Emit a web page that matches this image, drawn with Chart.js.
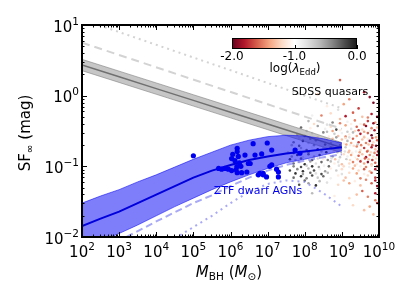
<!DOCTYPE html>
<html><head><meta charset="utf-8">
<script src="https://cdn.jsdelivr.net/npm/chart.js@4.4.1/dist/chart.umd.min.js"></script>
<style>html,body{margin:0;padding:0;background:#fff;}canvas{display:block;}</style>
</head><body>
<canvas id="c" width="415" height="302" style="width:415px;height:302px"></canvas>
<script>
// ---- tick labels ----
const xTickExps = [2,3,4,5,6,7,8,9,10];
const yTickExps = [-2,-1,0,1];
const cbarTickLabels = ['-2.0','-1.0','0.0'];
const cbarTickValues = [-2,-1,0];

// ---- model curves (log10 M_BH, log10 SF_inf) ----
const modelLogM   = [2,2.5,3,3.5,4,4.5,5,5.5,6,6.5,7,7.5,8,8.5,9];
const ztfModelMid = [-1.845,-1.74,-1.64,-1.52,-1.40,-1.28,-1.16,-1.06,-0.98,-0.91,-0.86,-0.82,-0.79,-0.76,-0.73];
const ztfModelHi  = [-1.52,-1.42,-1.33,-1.22,-1.12,-1.01,-0.90,-0.80,-0.70,-0.63,-0.58,-0.56,-0.57,-0.61,-0.67];
const ztfModelLo  = [-2.17,-2.06,-1.95,-1.83,-1.70,-1.57,-1.45,-1.33,-1.22,-1.12,-1.03,-0.95,-0.90,-0.84,-0.78];

const ztfDashLogM = [3.2,4,5,5.5,6,6.5,7,7.5,8,8.5,9];
const ztfDashSF   = [-2.0,-1.78,-1.52,-1.41,-1.28,-1.16,-1.06,-0.98,-0.92,-0.87,-0.83];
const ztfDotLogM  = [4.5,5,5.5,6,6.5,7,7.5,8,8.5,9];
const ztfDotSF    = [-2.02,-1.86,-1.70,-1.52,-1.36,-1.25,-1.20,-1.22,-1.38,-1.57];

const qsoLogM  = [2,3,4,5,6,7,8,9];
const qsoMid   = [0.434,0.267,0.100,-0.067,-0.234,-0.401,-0.568,-0.735];
const qsoHi    = [0.514,0.347,0.180,0.013,-0.154,-0.321,-0.488,-0.665];
const qsoLo    = [0.354,0.187,0.020,-0.147,-0.314,-0.481,-0.648,-0.805];
const qsoDashLogM = [2,9];
const qsoDashSF   = [0.75,-0.47];
const qsoDotLogM  = [2,9];
const qsoDotSF    = [1.08,-0.18];

// ---- ZTF dwarf AGNs (log10 M_BH, log10 SF_inf) ----
const ztfLogM  = [5.00,5.76,5.85,5.68,5.94,6.03,6.15,6.18,6.30,6.44,6.06,6.18,6.18,6.21,6.12,6.24,6.28,6.48,6.61,6.84,6.99,6.75,6.88,6.97,6.17,6.03,6.53,6.66,7.11,7.11,7.06,7.24,7.29,6.79,7.29,7.74,7.87,6.88,6.39];
const ztfLogSF = [-0.85,-1.04,-1.03,-1.03,-1.04,-1.06,-1.05,-1.09,-1.09,-1.08,-0.83,-0.745,-0.79,-0.86,-0.92,-0.95,-1.00,-0.96,-0.68,-0.825,-0.67,-1.12,-1.10,-1.15,-1.005,-0.89,-0.96,-0.84,-0.77,-0.98,-1.00,-1.04,-1.08,-1.10,-1.15,-0.77,-0.815,-1.12,-0.84];

// ---- SDSS quasars: [log10 M_BH, log10 SF_inf, log lambda_Edd] ----
const sdssQuasars = [
[8.95,0.22,-1.6],[9.6,0.05,-1.8],
[8.35,0.02,-1.3],[9.2,-0.05,-1.5],[9.75,-0.02,-1.9],
[8.6,-0.15,-1.1],[9.05,-0.12,-1.4],[9.45,-0.18,-1.7],[9.85,-0.1,-1.95],[8.9,-0.2,-0.8],
[8.2,-0.28,-0.9],[8.7,-0.25,-1.2],[9.0,-0.3,-1.0],[9.3,-0.24,-1.6],[9.55,-0.3,-1.3],[9.8,-0.26,-1.8],[9.95,-0.3,-2.0],
[8.45,-0.28,-1.5],[9.1,-0.29,-1.8],[9.7,-0.31,-1.5],
[8.1,-0.36,-0.6],[8.45,-0.34,-1.0],[8.75,-0.38,-0.4],[8.95,-0.33,-1.3],[9.15,-0.37,-0.9],[9.35,-0.35,-1.5],[9.5,-0.4,-1.1],[9.7,-0.36,-1.7],[9.9,-0.38,-1.4],
[8.25,-0.4,-1.2],[8.6,-0.41,-0.8],[8.95,-0.39,-1.5],[9.25,-0.4,-1.1],[9.6,-0.41,-1.6],[9.85,-0.39,-1.9],
[7.9,-0.45,-0.3],[8.15,-0.46,-1.1],[8.35,-0.43,-0.5],[8.55,-0.47,-0.9],[8.7,-0.44,-1.2],[8.85,-0.48,-0.2],[9.0,-0.45,-1.0],[9.1,-0.42,-1.4],[9.25,-0.47,-0.8],[9.4,-0.44,-1.6],[9.55,-0.48,-1.2],[9.65,-0.43,-1.9],[9.8,-0.46,-1.5],[9.95,-0.45,-1.3],
[8.05,-0.5,-0.7],[8.3,-0.49,-1.0],[8.6,-0.51,-0.6],[8.75,-0.5,-1.4],[8.95,-0.49,-1.1],[9.15,-0.51,-0.7],[9.35,-0.5,-1.2],[9.45,-0.49,-1.7],[9.6,-0.51,-1.4],[9.75,-0.5,-1.1],[9.88,-0.49,-1.8],
[7.8,-0.55,-0.5],[8.0,-0.57,-0.2],[8.2,-0.53,-0.8],[8.4,-0.56,-1.0],[8.5,-0.52,-0.4],[8.65,-0.58,-1.1],[8.8,-0.54,-0.7],[8.9,-0.57,-1.3],[9.0,-0.53,-0.9],[9.1,-0.58,-1.5],[9.2,-0.55,-1.1],[9.3,-0.52,-0.6],[9.4,-0.57,-1.4],[9.5,-0.54,-1.8],[9.6,-0.58,-1.2],[9.7,-0.53,-1.6],[9.8,-0.56,-2.0],[9.9,-0.54,-1.1],[10.0,-0.57,-1.5],
[7.85,-0.6,-0.8],[8.15,-0.61,-0.4],[8.35,-0.59,-1.2],[8.55,-0.6,-0.9],[8.75,-0.61,-1.3],[8.85,-0.59,-0.5],[8.95,-0.61,-1.0],[9.1,-0.6,-1.2],[9.2,-0.59,-0.8],[9.3,-0.61,-1.6],[9.45,-0.6,-1.0],[9.6,-0.59,-1.3],[9.7,-0.61,-1.1],[9.82,-0.6,-1.7],[9.92,-0.59,-1.4],
[7.7,-0.66,-0.4],[7.95,-0.64,-0.1],[8.1,-0.67,-0.7],[8.3,-0.63,-0.3],[8.45,-0.66,-0.9],[8.6,-0.62,-1.2],[8.7,-0.67,-0.5],[8.8,-0.64,-1.0],[8.9,-0.66,-0.8],[9.0,-0.62,-1.3],[9.05,-0.68,-1.1],[9.15,-0.64,-0.6],[9.25,-0.67,-1.4],[9.35,-0.63,-1.0],[9.45,-0.66,-1.7],[9.55,-0.62,-1.3],[9.65,-0.67,-1.5],[9.75,-0.64,-1.9],[9.85,-0.66,-1.2],[9.95,-0.63,-1.6],
[7.65,-0.7,-0.6],[7.85,-0.71,-0.3],[8.0,-0.69,-1.0],[8.25,-0.7,-0.5],[8.4,-0.71,-1.1],[8.55,-0.69,-0.2],[8.65,-0.7,-0.8],[8.75,-0.71,-1.3],[8.85,-0.69,-0.9],[8.95,-0.7,-0.4],[9.05,-0.71,-1.0],[9.12,-0.69,-1.4],[9.22,-0.7,-0.9],[9.32,-0.71,-1.2],[9.42,-0.69,-0.7],[9.52,-0.7,-1.5],[9.62,-0.71,-1.0],[9.72,-0.69,-1.3],[9.82,-0.7,-1.6],[9.92,-0.71,-1.9],
[7.75,-0.76,-0.2],[7.9,-0.74,-0.6],[8.05,-0.77,-0.3],[8.2,-0.73,-0.9],[8.35,-0.76,-0.1],[8.5,-0.74,-0.7],[8.6,-0.78,-1.0],[8.7,-0.73,-0.4],[8.8,-0.77,-1.2],[8.9,-0.74,-0.9],[9.0,-0.76,-1.1],[9.1,-0.73,-0.7],[9.2,-0.78,-1.3],[9.3,-0.75,-1.0],[9.4,-0.72,-1.5],[9.5,-0.77,-1.2],[9.6,-0.74,-1.7],[9.7,-0.78,-1.4],[9.8,-0.73,-1.8],[9.9,-0.76,-1.3],[10.0,-0.74,-1.6],
[7.55,-0.8,-0.7],[7.7,-0.81,-0.2],[7.9,-0.79,-0.9],[8.1,-0.8,-0.4],[8.3,-0.81,-1.0],[8.45,-0.79,-0.6],[8.58,-0.8,-0.1],[8.68,-0.81,-0.9],[8.78,-0.79,-1.2],[8.88,-0.8,-0.6],[8.98,-0.81,-1.0],[9.08,-0.79,-0.8],[9.18,-0.8,-1.3],[9.28,-0.81,-1.1],[9.38,-0.79,-0.9],[9.48,-0.8,-1.4],[9.58,-0.81,-1.0],[9.68,-0.79,-1.6],[9.78,-0.8,-1.2],[9.88,-0.81,-1.5],[9.97,-0.79,-1.8],
[7.65,-0.86,-0.5],[7.8,-0.84,-0.1],[7.95,-0.87,-0.8],[8.1,-0.83,-0.3],[8.25,-0.86,-0.6],[8.4,-0.84,-0.2],[8.55,-0.88,-0.9],[8.65,-0.83,-1.1],[8.75,-0.86,-0.5],[8.85,-0.84,-1.0],[8.95,-0.87,-0.7],[9.05,-0.83,-1.2],[9.15,-0.86,-0.9],[9.25,-0.84,-1.4],[9.35,-0.88,-1.1],[9.45,-0.85,-1.6],[9.55,-0.83,-1.3],[9.65,-0.87,-1.8],[9.75,-0.84,-1.5],[9.85,-0.86,-1.2],[9.95,-0.84,-1.9],
[7.6,-0.9,-0.1],[7.75,-0.91,-0.6],[7.9,-0.89,-0.3],[8.05,-0.9,-0.9],[8.2,-0.91,-0.2],[8.35,-0.89,-0.7],[8.5,-0.9,-1.1],[8.62,-0.91,-0.4],[8.72,-0.89,-0.8],[8.82,-0.9,-1.3],[8.92,-0.91,-0.9],[9.02,-0.89,-1.0],[9.12,-0.9,-0.7],[9.22,-0.91,-1.2],[9.32,-0.89,-1.0],[9.42,-0.9,-1.3],[9.52,-0.91,-1.1],[9.62,-0.89,-1.6],[9.72,-0.9,-1.3],[9.82,-0.91,-1.7],[9.92,-0.89,-1.2],
[7.7,-0.96,-0.3],[7.85,-0.94,-0.7],[8.0,-0.97,-0.1],[8.15,-0.93,-0.5],[8.3,-0.96,-0.8],[8.45,-0.94,-0.3],[8.6,-0.97,-1.0],[8.7,-0.93,-0.6],[8.8,-0.96,-1.1],[8.9,-0.94,-0.8],[9.0,-0.97,-1.3],[9.1,-0.93,-1.0],[9.2,-0.96,-1.2],[9.3,-0.94,-1.5],[9.4,-0.97,-1.1],[9.5,-0.93,-1.7],[9.6,-0.96,-1.4],[9.7,-0.94,-1.9],[9.8,-0.97,-1.3],[9.9,-0.95,-1.6],
[7.7,-1.0,-0.4],[7.9,-1.01,-0.2],[8.05,-0.99,-0.7],[8.2,-1.0,-0.1],[8.38,-1.01,-0.5],[8.52,-0.99,-0.9],[8.65,-1.0,-0.3],[8.78,-1.01,-1.0],[8.92,-0.99,-0.8],[9.05,-1.0,-1.2],[9.2,-1.01,-0.9],[9.35,-0.99,-1.3],[9.5,-1.0,-1.1],[9.65,-1.01,-1.5],[9.8,-0.99,-1.2],[9.95,-1.0,-1.7],
[7.6,-1.06,-0.2],[7.8,-1.04,-0.4],[7.95,-1.07,-0.1],[8.1,-1.03,-0.6],[8.25,-1.06,-0.2],[8.4,-1.04,-0.9],[8.55,-1.07,-0.5],[8.7,-1.03,-1.1],[8.85,-1.06,-0.7],[9.0,-1.04,-1.2],[9.15,-1.07,-1.0],[9.3,-1.03,-1.4],[9.45,-1.06,-1.2],[9.6,-1.04,-1.6],[9.75,-1.07,-1.3],[9.9,-1.04,-1.8],
[7.75,-1.1,-0.1],[7.95,-1.11,-0.5],[8.15,-1.09,-0.3],[8.3,-1.1,-0.8],[8.45,-1.11,-0.2],[8.62,-1.09,-0.6],[8.8,-1.1,-1.0],[9.0,-1.11,-0.8],[9.2,-1.09,-1.2],[9.4,-1.1,-1.4],[9.6,-1.11,-1.1],[9.8,-1.09,-1.6],
[7.7,-1.16,-0.3],[7.9,-1.14,-0.1],[8.05,-1.17,-0.4],[8.2,-1.13,-0.2],[8.35,-1.16,-0.7],[8.5,-1.14,-0.3],[8.7,-1.17,-0.9],[8.9,-1.13,-1.1],[9.1,-1.16,-1.3],[9.3,-1.14,-1.0],[9.5,-1.17,-1.5],[9.7,-1.13,-1.2],[9.9,-1.16,-1.7],
[8.0,-1.2,-0.3],[8.4,-1.21,-0.6],[8.75,-1.19,-1.0],[9.05,-1.2,-1.3],[9.35,-1.21,-1.1],[9.65,-1.19,-1.5],[9.9,-1.2,-1.8],
[7.85,-1.26,-0.2],[8.1,-1.24,-0.5],[8.3,-1.27,-0.1],[8.6,-1.23,-0.8],[8.9,-1.26,-1.2],[9.2,-1.24,-1.4],[9.5,-1.27,-1.3],[9.8,-1.24,-1.6],[9.95,-1.28,-1.9],
[9.55,-1.35,-1.6],[8.2,-1.38,-0.6],[8.8,-1.42,-1.1],[9.4,-1.4,-1.3],[9.7,-1.43,-1.5],[9.9,-1.38,-1.8],
[9.2,-1.45,-1.2],[9.9,-1.48,-1.5],[9.3,-1.55,-1.2],[9.75,-1.57,-1.4],[9.95,-1.52,-1.7],
[9.6,-1.62,-1.3],[9.85,-1.68,-1.3]
];

// RdGy colormap stops
const cmapStops = ['#67001f','#b2182b','#d6604d','#f4a582','#fddbc7','#ffffff','#e0e0e0','#bababa','#878787','#4d4d4d','#1a1a1a'];
function hex2rgb(h){return [parseInt(h.slice(1,3),16),parseInt(h.slice(3,5),16),parseInt(h.slice(5,7),16)];}
function cmap(v){
  let t=(v+2)/2; t=Math.max(0,Math.min(1,t));
  const f=t*(cmapStops.length-1); const i=Math.min(Math.floor(f),cmapStops.length-2); const r=f-i;
  const a=hex2rgb(cmapStops[i]), b=hex2rgb(cmapStops[i+1]);
  return 'rgb('+a.map((c,k)=>Math.round(c+(b[k]-c)*r)).join(',')+')';
}
const pts=(lx,ly)=>lx.map((v,i)=>({x:Math.pow(10,v),y:Math.pow(10,ly[i])}));

const FONT='DejaVu Sans';
function drawParts(ctx, parts, x, y, align){
  let w=0; parts.forEach(p=>{ctx.font=p.f; p.w=ctx.measureText(p.t).width; w+=p.w;});
  let cx = align==='center'? x-w/2 : (align==='right'? x-w : x);
  ctx.textAlign='left'; ctx.textBaseline='alphabetic';
  parts.forEach(p=>{ctx.font=p.f; ctx.fillText(p.t,cx,y+(p.dy||0)); cx+=p.w;});
}
function sup(n){return String(n).replace('-','\u2212');}

const deco={
  id:'deco',
  afterDatasetsDraw(chart){
    const {ctx, chartArea:a, scales:{x,y}}=chart;
    ctx.save();
    ctx.strokeStyle='#000'; ctx.fillStyle='#000'; ctx.lineWidth=1;
    const seg=(x1,y1,x2,y2)=>{ctx.beginPath();ctx.moveTo(x1,y1);ctx.lineTo(x2,y2);ctx.stroke();};
    for(let e=2;e<=10;e++) for(let m=1;m<10;m++){
      if(e===10 && m>1) break;
      const px=Math.round(x.getPixelForValue(m*Math.pow(10,e)))+0.5;
      const L=m===1?5:2.5;
      seg(px,a.bottom,px,a.bottom-L); seg(px,a.top,px,a.top+L);
    }
    for(let e=-2;e<=1;e++) for(let m=1;m<10;m++){
      if(e===1 && m>1) break;
      const py=Math.round(y.getPixelForValue(m*Math.pow(10,e)))+0.5;
      const L=m===1?5:2.5;
      seg(a.left,py,a.left+L,py); seg(a.right,py,a.right-L,py);
    }
    ctx.lineWidth=2;
    ctx.strokeRect(a.left,a.top,a.right-a.left,a.bottom-a.top);
    ctx.fillStyle='#000';
    xTickExps.forEach(e=>{
      const px=x.getPixelForValue(Math.pow(10,e));
      drawParts(ctx,[{t:'10',f:'15px '+FONT},{t:sup(e),f:'10.5px '+FONT,dy:-7}],px,257,'center');
    });
    yTickExps.forEach(e=>{
      const py=y.getPixelForValue(Math.pow(10,e));
      drawParts(ctx,[{t:'10',f:'15px '+FONT},{t:sup(e),f:'10.5px '+FONT,dy:-7}],79,py+6.5,'right');
    });
    drawParts(ctx,[{t:'M',f:'italic 15px '+FONT},{t:'BH',f:'10.5px '+FONT,dy:3},{t:' (',f:'15px '+FONT},{t:'M',f:'italic 15px '+FONT},{t:'\u2299',f:'10.5px '+FONT,dy:3},{t:')',f:'15px '+FONT}],229,277,'center');
    ctx.save(); ctx.translate(25,133); ctx.rotate(-Math.PI/2);
    drawParts(ctx,[{t:'SF',f:'15px '+FONT},{t:'\u221e',f:'10.5px '+FONT,dy:3},{t:' (mag)',f:'15px '+FONT}],0,5,'center');
    ctx.restore();
    ctx.font='11px '+FONT; ctx.textAlign='center'; ctx.textBaseline='middle';
    ctx.fillStyle='#000'; ctx.fillText('SDSS quasars',330,92);
    ctx.fillStyle='#0000ee'; ctx.fillText('ZTF dwarf AGNs',258,191);
    const cx0=232,cx1=357,cy0=38,cy1=49;
    const g=ctx.createLinearGradient(cx0,0,cx1,0);
    cmapStops.forEach((c,i)=>g.addColorStop(i/(cmapStops.length-1),c));
    ctx.fillStyle=g; ctx.fillRect(cx0,cy0,cx1-cx0,cy1-cy0);
    ctx.lineWidth=1; ctx.strokeStyle='#000';
    ctx.strokeRect(cx0+0.5,cy0+0.5,cx1-cx0-1,cy1-cy0-1);
    ctx.fillStyle='#000'; ctx.font='12px '+FONT; ctx.textAlign='center'; ctx.textBaseline='middle';
    cbarTickValues.forEach((v,i)=>{
      const px=cx0+(v+2)/2*(cx1-cx0);
      const rx=Math.round(px)+0.5;
      seg(rx,cy1,rx,cy1-4);
      ctx.fillText(cbarTickLabels[i],px,57);
    });
    drawParts(ctx,[{t:'log(',f:'12px '+FONT},{t:'\u03bb',f:'italic 12px '+FONT},{t:'Edd',f:'8.5px '+FONT,dy:2.5},{t:')',f:'12px '+FONT}],295,72,'center');
    ctx.restore();
  }
};

const datasets=[
  {type:'scatter',data:pts(ztfLogM,ztfLogSF),pointRadius:2.6,pointBackgroundColor:'#0000f0',pointBorderWidth:0,order:1},
  {type:'line',data:pts(modelLogM,ztfModelMid),borderColor:'#0000dd',borderWidth:2,pointRadius:0,fill:false,order:2,tension:0},
  {type:'line',data:pts(modelLogM,ztfModelHi),borderColor:'rgba(0,0,240,0.55)',borderWidth:1,pointRadius:0,fill:{target:3},backgroundColor:'rgba(20,20,245,0.55)',order:3},
  {type:'line',data:pts(modelLogM,ztfModelLo),borderColor:'rgba(0,0,240,0.55)',borderWidth:1,pointRadius:0,fill:false,order:3},
  {type:'line',data:pts(ztfDashLogM,ztfDashSF),borderColor:'rgba(110,110,240,0.6)',borderWidth:2,borderDash:[7,4],pointRadius:0,fill:false,order:4},
  {type:'line',data:pts(ztfDotLogM,ztfDotSF),borderColor:'rgba(110,110,240,0.6)',borderWidth:2,borderDash:[2,4],pointRadius:0,fill:false,order:4},
  {type:'line',data:pts(qsoLogM,qsoMid),borderColor:'#707070',borderWidth:1.5,pointRadius:0,fill:false,order:5},
  {type:'line',data:pts(qsoLogM,qsoHi),borderColor:'rgba(120,120,120,0.55)',borderWidth:1,pointRadius:0,fill:{target:8},backgroundColor:'rgba(128,128,128,0.45)',order:6},
  {type:'line',data:pts(qsoLogM,qsoLo),borderColor:'rgba(120,120,120,0.55)',borderWidth:1,pointRadius:0,fill:false,order:6},
  {type:'line',data:pts(qsoDashLogM,qsoDashSF),borderColor:'#d3d3d3',borderWidth:2,borderDash:[8,5],pointRadius:0,fill:false,order:7},
  {type:'line',data:pts(qsoDotLogM,qsoDotSF),borderColor:'#d3d3d3',borderWidth:2,borderDash:[2,4],pointRadius:0,fill:false,order:7},
  {type:'scatter',data:sdssQuasars.map(p=>({x:Math.pow(10,p[0]),y:Math.pow(10,p[1])})),pointRadius:1.3,pointBorderWidth:0,pointBackgroundColor:sdssQuasars.map(p=>cmap(p[2])),order:10}
];

new Chart(document.getElementById('c'),{
  type:'scatter',
  data:{datasets},
  options:{
    responsive:false,animation:false,devicePixelRatio:1,events:[],
    layout:{padding:{top:25,right:36,left:0,bottom:0}},
    plugins:{legend:{display:false},tooltip:{enabled:false}},
    scales:{
      x:{type:'logarithmic',min:1e2,max:1e10,grid:{display:false},border:{display:false},ticks:{display:false},afterFit(s){s.height=65;}},
      y:{type:'logarithmic',min:1e-2,max:1e1,grid:{display:false},border:{display:false},ticks:{display:false},afterFit(s){s.width=82;}}
    }
  },
  plugins:[deco]
});
</script>
</body></html>
